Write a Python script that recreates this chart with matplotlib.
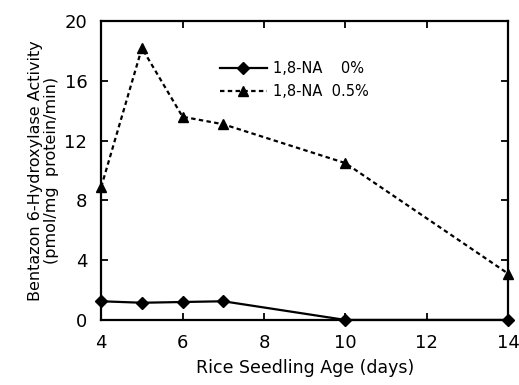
import matplotlib
matplotlib.use("Agg")
import matplotlib.pyplot as plt

# --- Data ---
age = [4, 5, 6, 7, 10, 14]
na_0 = [1.25, 1.15, 1.2, 1.25, 0.0, 0.0]
na_05 = [8.9, 18.2, 13.6, 13.1, 10.5, 3.1]
x_ticks = [4, 6, 8, 10, 12, 14]
y_ticks = [0, 4, 8, 12, 16, 20]

plt.rcParams["font.family"] = ["DejaVu Sans"]

fig = plt.figure(figsize=(5.19, 3.85), dpi=100)
ax = fig.add_axes([0.195, 0.169, 0.784, 0.776])

ax.plot(age, na_0, color="black", linestyle="-", linewidth=1.6,
        marker="D", markersize=6, label="1,8-NA    0%", clip_on=False, zorder=3)
ax.plot(age, na_05, color="black", linestyle=(0, (2, 1.5)), linewidth=1.6,
        marker="^", markersize=7, label="1,8-NA  0.5%", clip_on=False, zorder=3)

ax.set_xlim(4, 14)
ax.set_ylim(0, 20)
ax.set_xticks(x_ticks)
ax.set_yticks(y_ticks)
ax.tick_params(direction="in", length=5, width=1.3, labelsize=13,
               top=True, right=True, pad=10)
for s in ax.spines.values():
    s.set_linewidth(1.6)

ax.set_xlabel("Rice Seedling Age (days)", fontsize=12.5, labelpad=5)
ax.set_ylabel("Bentazon 6-Hydroxylase Activity\n(pmol/mg  protein/min)",
              fontsize=11.5, labelpad=4, linespacing=1.1)

ax.legend(loc="upper left", bbox_to_anchor=(0.26, 0.91), frameon=False,
          fontsize=10.5, handlelength=3.2, handletextpad=0.4, labelspacing=0.55)

fig.savefig("out.png", dpi=100)
